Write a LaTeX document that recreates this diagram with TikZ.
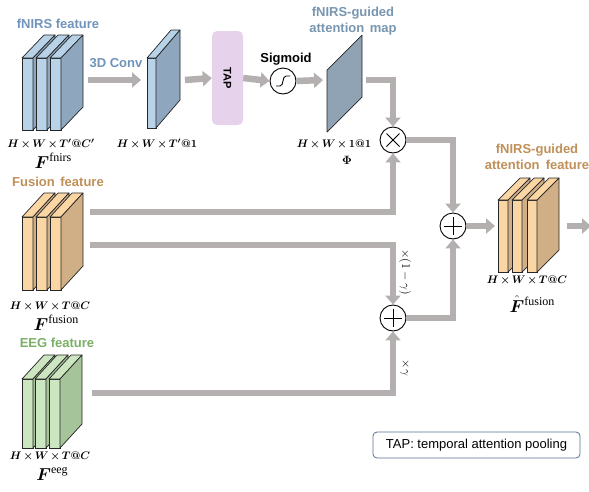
\documentclass[tikz,border=0pt]{standalone}
\usepackage{amsmath}
\usepackage[no-math]{fontspec}
\setmainfont{Liberation Sans}
\newfontfamily\serifface{Liberation Serif}
\usetikzlibrary{arrows.meta,calc}
\definecolor{arrowgray}{RGB}{180,176,176}
\definecolor{bluefront}{RGB}{184,210,232}
\definecolor{blueside}{RGB}{142,166,190}
\definecolor{slate}{RGB}{143,163,181}
\definecolor{tanfront}{RGB}{250,214,165}
\definecolor{tanside}{RGB}{208,174,134}
\definecolor{greenfront}{RGB}{205,230,194}
\definecolor{greenside}{RGB}{166,196,154}
\definecolor{titleblue}{RGB}{112,148,186}
\definecolor{titleslate}{RGB}{120,150,176}
\definecolor{titletan}{RGB}{192,144,88}
\definecolor{titlegreen}{RGB}{122,176,102}
\definecolor{taplav}{RGB}{230,210,235}
\definecolor{legendborder}{RGB}{90,112,144}
\newcommand{\drawslab}[8]{%
  \filldraw[fill=#7,draw=black!85,line width=0.7pt] (#1,#2) rectangle ({#1+#3},{#2+#4});
  \filldraw[fill=#7,draw=black!85,line width=0.7pt,line join=round] (#1,#2) -- ({#1+#5},{#2-#6}) -- ({#1+#3+#5},{#2-#6}) -- ({#1+#3},#2) -- cycle;
  \filldraw[fill=#8,draw=black!85,line width=0.7pt,line join=round] ({#1+#3},#2) -- ({#1+#3+#5},{#2-#6}) -- ({#1+#3+#5},{#2+#4-#6}) -- ({#1+#3},{#2+#4}) -- cycle;
}
% feature symbol: big bold F with a serif superscript
\newcommand{\featsym}[2]{{\fontsize{17}{18}\selectfont$#1$}\raisebox{7pt}{\fontsize{12}{13}\selectfont\serifface #2}}
% dimension label with tighter operator spacing
\newcommand{\dimtxt}[1]{$\medmuskip=2.5mu\relax #1$}
\tikzset{
  garrow/.style={draw=arrowgray,line width=6.5pt,-{Triangle[length=9pt,width=15pt]}},
  title/.style={font=\bfseries\fontsize{13}{16.5}\selectfont,align=center,inner sep=0pt},
  dimlab/.style={font=\fontsize{11}{12}\selectfont\boldmath,inner sep=0pt},
  featlab/.style={inner sep=0pt},
  opcircle/.style={circle,draw=black,line width=0.9pt,fill=white,minimum size=26pt,inner sep=0pt},
  rotlab/.style={font=\fontsize{12}{14}\selectfont,rotate=-90,inner sep=0pt}
}
\begin{document}
\begin{tikzpicture}[x=1pt,y=-1pt]
\useasboundingbox (0,0) rectangle (589,491);
\fill[white] (0,0) rectangle (589,491);

% ---------- fNIRS feature ----------
\node[title,text=titleblue] (tfnirs) at (58,24) {fNIRS feature};
\drawslab{22}{58}{11}{72}{22}{23}{bluefront}{blueside}
\drawslab{36}{58}{11}{72}{22}{23}{bluefront}{blueside}
\drawslab{50}{58}{11}{72}{22}{23}{bluefront}{blueside}
\node[dimlab] (dfnirs) at (51,144) {\dimtxt{H\times W\times T'@C'}};
\node[featlab] (ffnirs) at (53,161) {\featsym{\boldsymbol{F}}{fnirs}};
\coordinate (fnirsR) at (88,80);

% 3D conv
\node[title,text=titleblue] (tconv) at (116,63) {3D Conv};
\drawslab{147}{58}{9}{70}{24}{28}{bluefront}{blueside}
\coordinate (convL) at (141,80);
\coordinate (convR) at (185,80);
\node[dimlab] (dconv) at (157,144) {\dimtxt{H\times W\times T'@1}};

% TAP
\node[fill=taplav,rounded corners=5pt,minimum width=31pt,minimum height=94pt,inner sep=0pt] (tap) at (227.5,78) {};
\node[font=\bfseries\fontsize{11}{13}\selectfont,rotate=-90] (taptext) at (tap.center) {TAP};

% Sigmoid
\node[opcircle] (sig) at (283,81) {};
\draw[line width=0.9pt] ($(sig.center)+(-7,5)$) -- ($(sig.center)+(-3,5)$) .. controls ($(sig.center)+(1,5)$) and ($(sig.center)+(-1,-5)$) .. ($(sig.center)+(3,-5)$) -- ($(sig.center)+(7,-5)$);
\node[title] (tsig) at (286,59) {Sigmoid};

% attention map
\node[title,text=titleslate] (tmap) at (353,21) {fNIRS-guided\\attention\hspace{0.15em} map};
\filldraw[fill=slate,draw=black!85,line width=0.7pt,line join=round] (327,70) -- (362,35) -- (362,97) -- (327,132) -- cycle;
\coordinate (mapL) at (323,80);
\coordinate (mapR) at (366,80);
\node[dimlab] (dmap) at (334,144) {\dimtxt{H\times W\times 1@1}};
\node[featlab] (phi) at (347,160) {\fontsize{13}{14}\selectfont$\boldsymbol{\Phi}$};

% operators
\node[opcircle] (mul) at (393,140) {};
\draw[line width=0.9pt] ($(mul.center)+(-6.5,-6.5)$) -- ($(mul.center)+(6.5,6.5)$);
\draw[line width=0.9pt] ($(mul.center)+(-6.5,6.5)$) -- ($(mul.center)+(6.5,-6.5)$);
\node[opcircle] (addt) at (453,226) {};
\draw[line width=0.9pt] ($(addt.center)+(-9,0)$) -- ($(addt.center)+(9,0)$);
\draw[line width=0.9pt] ($(addt.center)+(0,-9)$) -- ($(addt.center)+(0,9)$);
\node[opcircle] (addl) at (393,318) {};
\draw[line width=0.9pt] ($(addl.center)+(-9,0)$) -- ($(addl.center)+(9,0)$);
\draw[line width=0.9pt] ($(addl.center)+(0,-9)$) -- ($(addl.center)+(0,9)$);

% ---------- Fusion feature ----------
\node[title,text=titletan] (tfusion) at (58,182) {Fusion\hspace{0.15em} feature};
\drawslab{22}{217}{11}{73}{22}{24}{tanfront}{tanside}
\drawslab{36}{217}{11}{73}{22}{24}{tanfront}{tanside}
\drawslab{50}{217}{11}{73}{22}{24}{tanfront}{tanside}
\node[dimlab] (dfusion) at (50,306) {\dimtxt{H\times W\times T@C}};
\node[featlab] (ffusion) at (56,323) {\featsym{\boldsymbol{F}}{fusion}};
\coordinate (fusA) at (90,212);
\coordinate (fusB) at (90,245);

% ---------- EEG feature ----------
\node[title,text=titlegreen] (teeg) at (57,343) {EEG feature};
\drawslab{22}{379}{11}{69}{22}{24}{greenfront}{greenside}
\drawslab{35}{379}{11}{69}{22}{24}{greenfront}{greenside}
\drawslab{49}{379}{11}{69}{22}{24}{greenfront}{greenside}
\node[dimlab] (deeg) at (50,456) {\dimtxt{H\times W\times T@C}};
\node[featlab] (feeg) at (52,474) {\featsym{\boldsymbol{F}}{eeg}};
\coordinate (eegR) at (92,393);

% ---------- output ----------
\node[title,text=titletan] (tout) at (537,157) {fNIRS-guided\\attention\hspace{0.2em} feature};
\drawslab{498}{200}{10}{72}{22}{22}{tanfront}{tanside}
\drawslab{512}{200}{10}{72}{22}{22}{tanfront}{tanside}
\drawslab{527}{200}{10}{72}{22}{22}{tanfront}{tanside}
\node[dimlab] (dout) at (527,280) {\dimtxt{H\times W\times T@C}};
\node[featlab,anchor=base] (fout) at (532,312) {\smash[t]{\featsym{\hat{\boldsymbol{F}}}{fusion}}};
\coordinate (outL) at (495,226);
\coordinate (outR) at (567,226);
\coordinate (outEnd) at (591,226);

% ---------- connectors ----------
\draw[garrow] (fnirsR) -- (convL);
\draw[garrow] (convR) -- (tap.west);
\draw[garrow] (tap.east) -- (sig.west);
\draw[garrow] (sig.east) -- (mapL);
\draw[garrow] (mapR) -| (mul.north);
\draw[garrow] (fusA) -| (mul.south);
\draw[garrow] (mul.east) -| (addt.north);
\draw[garrow] (fusB) -| (addl.north);
\draw[garrow] (eegR) -| (addl.south);
\draw[garrow] (addl.east) -| (addt.south);
\draw[garrow] (addt.east) -- (outL);
\draw[garrow] (outR) -- (outEnd);

\node[rotlab] (lg1) at (405,272) {$\times(1-\gamma)$};
\node[rotlab] (lg2) at (405,368) {$\times\gamma$};

% legend
\node[draw=legendborder,line width=0.8pt,rounded corners=4pt,minimum width=207pt,minimum height=26pt,font=\fontsize{13}{15}\selectfont] (legend) at (476.5,445) {TAP: temporal attention pooling};
\end{tikzpicture}
\end{document}
